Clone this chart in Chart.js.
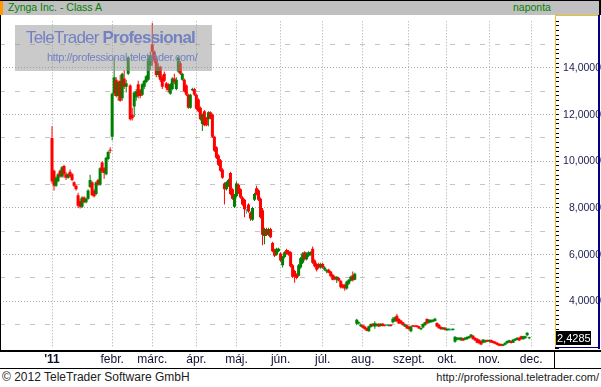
<!DOCTYPE html>
<html lang="hu">
<head>
<meta charset="utf-8">
<title>Zynga Inc. - Class A</title>
<script src="https://cdn.jsdelivr.net/npm/chart.js@4.4.1/dist/chart.umd.min.js"></script>
<style>
  html, body { margin: 0; padding: 0; background: #fff; }
  #wrap { position: relative; width: 601px; height: 387px; overflow: hidden;
          font-family: "Liberation Sans", Arial, Helvetica, sans-serif; }
  #head { position: absolute; left: 0; top: 0; width: 599px; height: 14px;
          background: #c0c0c0; border-top: 1px solid #000; border-right: 2px solid #000; }
  #head .mark { position: absolute; left: 0; top: 0; width: 3px; height: 14px; background: #ff9900; }
  #head .title { position: absolute; left: 8px; top: 0; font-size: 10.5px; line-height: 13px; color: #008000; }
  #head .freq { position: absolute; left: 513px; top: 0; font-size: 10.5px; line-height: 13px; color: #008000; }
  #box { position: absolute; left: 0; top: 15px; width: 601px; height: 354px; }
  #mark { position: absolute; left: 15px; top: 25px; width: 197px; height: 46px;
          background: rgba(150, 150, 150, 0.5); color: #7482c2; }
  #mark .big { position: absolute; left: 11px; top: 3px; font-size: 17px; letter-spacing: -0.8px; white-space: nowrap; }
  #mark .big b { font-weight: bold; }
  #mark .url { position: absolute; left: 32px; top: 26px; font-size: 11px; letter-spacing: -0.35px; white-space: nowrap; }
  #foot { position: absolute; left: 0; top: 369px; width: 601px; height: 18px; color: #202020; }
  #foot .copy { position: absolute; left: 2px; top: 0; font-size: 12px; line-height: 17px; }
  #foot .url { position: absolute; right: 2px; top: 0; font-size: 11px; line-height: 17px; }
</style>
</head>
<body>
<div id="wrap">
  <div id="head"><div class="mark"></div><span class="title">Zynga Inc. - Class A</span><span class="freq">naponta</span></div>
  <div id="box"><canvas id="price-chart-canvas" width="601" height="354"></canvas></div>
  <div id="mark"><span class="big">TeleTrader <b>Professional</b></span><span class="url">http://professional.teletrader.com/</span></div>
  <div id="foot"><span class="copy">© 2012 TeleTrader Software GmbH</span><span class="url">http://professional.teletrader.com/</span></div>
</div>
<script>
// daily candles, index 0 = first trading day on the chart
const openP = [
  11.00, 9.60, 8.95, 9.15, 9.60, 9.35, 9.80, 9.45, 9.30, 9.55,
  9.45, 9.10, 8.95, 8.55, 8.30, 8.05, 8.45, 8.25, 8.40, 8.90,
  9.10, 8.75, 8.60, 9.20, 9.00, 9.95, 9.70, 9.45, 10.10, 10.50,
  11.05, 12.90, 13.50, 12.80, 13.45, 12.70, 13.55, 13.20, 13.75, 13.25,
  12.00, 12.35, 12.75, 13.30, 13.05, 12.85, 13.20, 13.40, 13.50, 14.10,
  15.00, 14.70, 14.40, 13.70, 14.05, 13.60, 13.75, 13.35, 13.30, 12.90,
  13.10, 13.55, 13.10, 13.85, 14.20, 13.50, 13.50, 13.25, 12.85, 12.30,
  13.05, 13.10, 12.85, 12.65, 12.30, 11.60, 12.15, 11.85, 11.80, 12.10,
  12.00, 11.05, 10.60, 10.25, 10.05, 9.65, 9.05, 8.80, 8.95, 9.50,
  8.80, 8.05, 8.50, 9.00, 8.80, 8.45, 8.35, 7.90, 8.15, 7.80,
  7.50, 8.35, 8.85, 8.75, 8.40, 7.90, 6.80, 7.10, 6.85, 7.10,
  6.50, 6.20, 6.00, 6.15, 6.05, 5.55, 5.90, 6.20, 6.15, 6.10,
  5.55, 5.30, 5.15, 5.10, 5.45, 5.65, 6.10, 5.80, 5.95, 6.00,
  6.25, 5.75, 5.60, 5.60, 5.45, 5.60, 5.35, 5.28, 5.35, 5.28,
  5.14, 5.05, 4.93, 5.00, 4.88, 4.72, 4.70, 4.55, 4.75, 4.88,
  5.12, 4.93, 3.04, 3.05, 2.93, 2.97, 2.92, 2.86, 2.72, 2.90,
  3.04, 2.92, 2.95, 3.04, 2.94, 3.04, 3.00, 2.97, 2.94, 3.00,
  3.10, 3.15, 3.38, 3.25, 3.18, 3.10, 2.92, 2.97, 2.92, 2.72,
  2.97, 2.96, 2.96, 2.93, 2.80, 2.88, 2.98, 3.24, 3.08, 3.10,
  3.12, 3.16, 3.07, 3.00, 2.90, 2.80, 2.87, 2.76, 2.78, 2.78,
  2.77, 2.27, 2.35, 2.36, 2.33, 2.42, 2.35, 2.38, 2.42, 2.46,
  2.52, 2.44, 2.40, 2.35, 2.30, 2.22, 2.25, 2.34, 2.28, 2.34,
  2.30, 2.27, 2.23, 2.18, 2.17, 2.10, 2.14, 2.20, 2.24, 2.30,
  2.23, 2.32, 2.35, 2.44, 2.50, 2.38, 2.42, 2.55, 2.42
];
const highP = [
  11.50, 9.65, 9.35, 9.50, 9.65, 9.80, 9.85, 9.55, 9.50, 9.65,
  9.50, 9.15, 9.00, 8.65, 8.40, 8.50, 8.50, 8.45, 8.80, 9.42,
  9.15, 8.80, 9.15, 9.25, 9.75, 10.00, 9.75, 10.20, 10.45, 10.60,
  12.95, 14.45, 13.60, 13.45, 13.70, 13.80, 13.90, 13.50, 14.50, 13.30,
  12.30, 13.00, 13.10, 13.45, 13.10, 13.35, 13.50, 13.70, 14.50, 14.70,
  15.93, 14.75, 14.50, 14.20, 14.10, 13.70, 13.85, 13.40, 13.35, 13.35,
  13.60, 13.75, 13.60, 14.50, 14.30, 13.80, 13.55, 13.30, 12.90, 12.90,
  13.15, 13.15, 12.90, 12.70, 12.35, 12.05, 12.20, 11.90, 12.15, 12.15,
  12.05, 11.10, 10.65, 10.30, 10.10, 9.70, 9.10, 9.15, 9.25, 9.55,
  8.85, 8.60, 9.13, 9.05, 8.85, 8.50, 8.40, 7.95, 8.20, 7.85,
  8.05, 8.65, 8.95, 8.80, 8.45, 8.00, 7.15, 7.15, 7.15, 7.15,
  6.55, 6.25, 6.30, 6.30, 6.10, 5.95, 6.15, 6.25, 6.20, 6.15,
  5.60, 5.35, 5.20, 5.60, 5.90, 6.10, 6.15, 6.10, 6.15, 6.15,
  6.35, 5.80, 5.65, 5.65, 5.65, 5.65, 5.50, 5.38, 5.40, 5.30,
  5.18, 5.10, 5.08, 5.05, 4.90, 4.75, 4.75, 4.88, 4.95, 5.10,
  5.28, 5.22, 3.25, 3.15, 3.05, 3.00, 2.95, 2.88, 2.95, 3.05,
  3.06, 3.15, 3.06, 3.06, 3.06, 3.07, 3.02, 3.02, 3.02, 3.02,
  3.32, 3.35, 3.46, 3.28, 3.20, 3.13, 3.05, 3.00, 2.95, 2.95,
  2.99, 2.98, 2.98, 2.95, 2.88, 3.05, 3.13, 3.28, 3.24, 3.23,
  3.23, 3.30, 3.10, 3.02, 2.93, 2.90, 2.90, 2.84, 2.84, 2.80,
  2.84, 2.50, 2.47, 2.46, 2.47, 2.44, 2.47, 2.50, 2.52, 2.60,
  2.56, 2.46, 2.42, 2.38, 2.32, 2.38, 2.35, 2.36, 2.36, 2.36,
  2.32, 2.29, 2.25, 2.20, 2.19, 2.18, 2.24, 2.32, 2.35, 2.32,
  2.38, 2.42, 2.46, 2.46, 2.52, 2.52, 2.52, 2.68, 2.48
];
const lowP = [
  9.05, 8.75, 8.90, 9.10, 9.30, 9.30, 9.30, 9.20, 9.25, 9.30,
  9.15, 8.90, 8.75, 8.00, 7.98, 8.00, 8.20, 8.20, 8.35, 8.85,
  8.50, 8.45, 8.55, 8.95, 8.95, 9.50, 9.25, 9.40, 10.05, 10.35,
  10.90, 12.80, 12.75, 12.60, 12.55, 12.60, 13.10, 12.95, 13.70, 11.75,
  11.75, 11.90, 12.60, 12.70, 12.70, 12.80, 13.10, 13.35, 13.45, 13.90,
  14.10, 14.20, 13.60, 13.60, 13.40, 13.10, 13.40, 13.05, 12.95, 12.85,
  13.05, 13.30, 13.05, 13.80, 13.70, 13.45, 12.95, 12.80, 12.25, 12.25,
  13.00, 12.80, 12.20, 12.10, 11.75, 11.30, 11.50, 11.50, 11.50, 11.80,
  11.00, 10.40, 10.10, 9.80, 9.55, 9.25, 8.15, 8.75, 8.90, 8.55,
  8.35, 8.00, 8.45, 8.60, 8.40, 8.10, 7.60, 7.75, 7.80, 7.45,
  7.45, 8.30, 8.55, 8.30, 7.55, 6.40, 6.45, 6.80, 6.80, 6.70,
  6.10, 5.90, 5.95, 6.10, 5.70, 5.45, 5.85, 6.00, 5.95, 5.45,
  5.00, 4.80, 4.95, 5.05, 5.40, 5.60, 5.75, 5.75, 5.90, 5.95,
  5.60, 5.45, 5.28, 5.40, 5.40, 5.40, 5.30, 5.20, 5.20, 5.05,
  4.90, 4.90, 4.79, 4.85, 4.55, 4.55, 4.45, 4.50, 4.70, 4.85,
  4.85, 4.90, 2.97, 3.00, 2.90, 2.85, 2.78, 2.72, 2.70, 2.87,
  2.92, 2.83, 2.92, 2.90, 2.92, 2.92, 2.92, 2.93, 2.92, 2.92,
  3.05, 3.12, 3.10, 3.03, 3.02, 2.96, 2.90, 2.82, 2.78, 2.68,
  2.90, 2.89, 2.88, 2.82, 2.76, 2.85, 2.95, 3.02, 3.05, 3.08,
  3.10, 3.14, 2.89, 2.82, 2.78, 2.78, 2.75, 2.73, 2.74, 2.73,
  2.75, 2.23, 2.32, 2.33, 2.30, 2.30, 2.33, 2.36, 2.40, 2.44,
  2.36, 2.30, 2.20, 2.16, 2.12, 2.20, 2.22, 2.26, 2.26, 2.22,
  2.19, 2.16, 2.12, 2.08, 2.08, 2.08, 2.12, 2.18, 2.22, 2.19,
  2.21, 2.30, 2.33, 2.30, 2.36, 2.36, 2.40, 2.50, 2.38
];
const closeP = [
  9.15, 8.95, 9.30, 9.45, 9.35, 9.75, 9.45, 9.30, 9.45, 9.35,
  9.20, 8.95, 8.80, 8.10, 8.05, 8.45, 8.25, 8.40, 8.75, 9.20,
  8.55, 8.50, 9.10, 9.00, 9.70, 9.55, 9.50, 10.15, 10.40, 10.45,
  12.90, 13.60, 12.80, 13.40, 12.60, 13.75, 13.20, 13.35, 14.45, 11.80,
  11.85, 12.95, 13.00, 12.80, 12.80, 13.30, 13.45, 13.65, 14.40, 14.55,
  14.70, 14.30, 13.70, 14.05, 13.50, 13.20, 13.45, 13.15, 13.05, 13.30,
  13.55, 13.40, 13.50, 14.45, 13.75, 13.75, 13.00, 12.85, 12.30, 12.85,
  13.10, 12.85, 12.25, 12.15, 11.80, 12.00, 11.55, 11.55, 12.10, 11.85,
  11.05, 10.45, 10.15, 9.85, 9.60, 9.30, 8.80, 9.10, 9.20, 8.60,
  8.40, 8.55, 9.05, 8.65, 8.45, 8.15, 7.95, 7.90, 7.85, 7.55,
  8.00, 8.60, 8.60, 8.35, 7.60, 6.85, 7.10, 6.85, 7.10, 6.75,
  6.15, 5.95, 6.25, 6.25, 5.75, 5.90, 6.10, 6.05, 6.00, 5.50,
  5.05, 5.05, 5.00, 5.55, 5.85, 6.05, 5.80, 6.05, 6.10, 6.10,
  5.65, 5.50, 5.35, 5.45, 5.60, 5.45, 5.45, 5.35, 5.22, 5.07,
  4.93, 4.95, 5.05, 4.88, 4.60, 4.58, 4.55, 4.85, 4.92, 5.05,
  4.90, 5.18, 3.21, 3.10, 3.00, 2.87, 2.80, 2.74, 2.93, 3.03,
  2.94, 3.06, 3.03, 2.92, 3.04, 2.94, 2.95, 2.97, 3.00, 2.94,
  3.25, 3.32, 3.15, 3.05, 3.05, 2.98, 3.02, 2.84, 2.80, 2.92,
  2.92, 2.91, 2.90, 2.84, 2.86, 3.03, 3.10, 3.05, 3.21, 3.20,
  3.21, 3.25, 2.92, 2.85, 2.80, 2.88, 2.78, 2.82, 2.82, 2.78,
  2.82, 2.48, 2.44, 2.44, 2.44, 2.32, 2.44, 2.47, 2.50, 2.58,
  2.38, 2.32, 2.22, 2.20, 2.15, 2.36, 2.33, 2.28, 2.34, 2.24,
  2.21, 2.18, 2.14, 2.10, 2.10, 2.16, 2.22, 2.30, 2.33, 2.21,
  2.36, 2.40, 2.44, 2.32, 2.38, 2.50, 2.50, 2.65, 2.4285
];

// month starts (trading-day index) and their labels on the time axis
const monthIdx = [0, 30, 50, 72, 92, 114, 135, 155, 178, 197, 218, 239];
const monthLabels = ["'11", "febr.", "márc.", "ápr.", "máj.", "jún.", "júl.", "aug.", "szept.", "okt.", "nov.", "dec."];

// price axis
const yLabels = [4, 6, 8, 10, 12, 14];
const yHalf = [3, 5, 7, 9, 11, 13, 15];

const FONT = '"Liberation Sans", Arial, Helvetica, sans-serif';
const UP = "#008000";
const DOWN = "#ff0000";
const FLAT = "#00c8c8";

const fmt = (v) => v.toFixed(4).replace(".", ",");

const candleColor = closeP.map((c, i) => (c > openP[i] ? UP : c < openP[i] ? DOWN : FLAT));
const wicks = highP.map((h, i) => ({ x: i, y: [lowP[i], h] }));
const bodies = openP.map((o, i) => ({ x: i, y: [o, closeP[i]] }));

const framePlugin = {
  id: "frame",
  afterDraw(chart) {
    const { ctx, chartArea: a, scales } = chart;
    const W = chart.width;
    ctx.save();
    ctx.fillStyle = "#000";
    ctx.fillRect(0, 0, 1, a.bottom + 2);
    ctx.fillRect(0, a.bottom + 2, W, 2);
    ctx.fillRect(0, chart.height - 1, W, 1);
    ctx.fillRect(a.right - 1, a.bottom + 2, 1, chart.height - a.bottom - 2);

    // right price panel frame
    ctx.fillStyle = "#f0c020";
    ctx.fillRect(a.right, 0, 1, a.bottom);
    ctx.fillRect(a.right, 0, W - a.right - 3, 1);
    ctx.fillStyle = "#000080";
    ctx.fillRect(W - 3, 0, 2, a.bottom + 1);
    ctx.fillRect(a.right, a.bottom - 1, W - a.right - 1, 1);

    // last price tag
    const last = closeP[closeP.length - 1];
    const py = Math.round(scales.y.getPixelForValue(last));
    ctx.fillStyle = "#000";
    ctx.fillRect(a.right + 1, py - 7, 35, 14);
    ctx.fillStyle = "#fff";
    ctx.font = "11px " + FONT;
    ctx.textBaseline = "middle";
    ctx.textAlign = "left";
    ctx.fillText(fmt(last), a.right + 2, py + 1);
    ctx.restore();
  },
};

const gridAxis = (values, color, dash) => ({
  type: "linear",
  position: "right",
  min: 2,
  max: 16,
  afterBuildTicks: (s) => { s.ticks = values.map((v) => ({ value: v })); },
  afterFit: (s) => { s.width = 0; },
  ticks: { display: false },
  grid: { color: color, drawTicks: false },
  border: { display: false, dash: dash },
});

new Chart(document.getElementById("price-chart-canvas").getContext("2d"), {
  type: "bar",
  data: {
    datasets: [
      { data: wicks, backgroundColor: candleColor, barThickness: 1, grouped: false, order: 2, inflateAmount: 0 },
      { data: bodies, backgroundColor: candleColor, barThickness: 3, minBarLength: 1, grouped: false, order: 1, inflateAmount: 0 },
    ],
  },
  options: {
    responsive: false,
    animation: false,
    layout: { padding: 0 },
    plugins: { legend: { display: false }, tooltip: { enabled: false } },
    scales: {
      x: {
        type: "linear",
        min: -25.94,
        max: 250.87,
        offset: false,
        afterBuildTicks: (s) => { s.ticks = monthIdx.map((v) => ({ value: v })); },
        afterFit: (s) => { s.height = 21; },
        ticks: {
          autoSkip: false,
          maxRotation: 0,
          padding: 4,
          color: "#101030",
          font: (c) => ({ family: FONT, size: 12, weight: c.index === 0 ? "bold" : "normal" }),
          callback: (v, i) => monthLabels[i],
        },
        grid: { color: "#a8a8a8", drawTicks: false, offset: false },
        border: { display: false, dash: [1, 2] },
      },
      y: {
        type: "linear",
        position: "right",
        min: 2,
        max: 16,
        beginAtZero: false,
        afterFit: (s) => { s.width = 46; },
        ticks: {
          stepSize: 0.2,
          autoSkip: false,
          padding: 0,
          crossAlign: "far",
          color: "#1c1c50",
          font: { family: FONT, size: 10.5 },
          callback: (v) => (yLabels.some((t) => Math.abs(t - v) < 1e-6) ? fmt(v) : ""),
        },
        grid: { drawOnChartArea: false, tickLength: 4, tickColor: "#000" },
        border: { display: false },
      },
      yDot: gridAxis(yLabels, "#a8a8a8", [1, 2]),
      yDash: gridAxis(yHalf, "#c4c4c4", [5, 10]),
    },
  },
  plugins: [framePlugin],
});
</script>
</body>
</html>
